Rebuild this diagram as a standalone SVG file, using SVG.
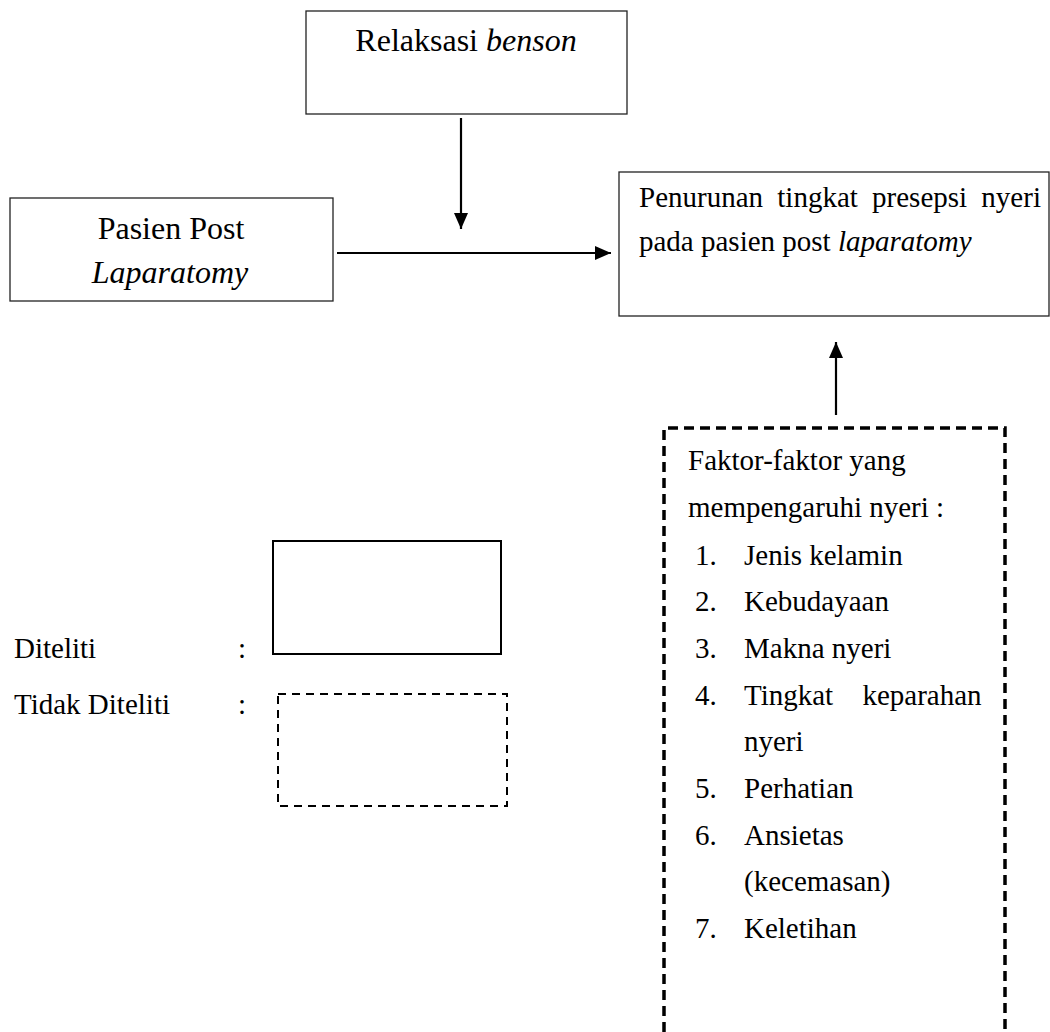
<svg xmlns="http://www.w3.org/2000/svg" width="1050" height="1032" viewBox="0 0 1050 1032">
<style>
.it{font-style:italic}
.big{font-size:32px}
.box{fill:none;stroke:#222;stroke-width:1.3}
.dash{fill:none;stroke:#000;stroke-width:3.5;stroke-dasharray:10 6}
.conn{stroke:#000;stroke-width:2.2;fill:none}
</style>
<defs>
<marker id="ah" markerWidth="16" markerHeight="14" refX="16" refY="7" orient="auto" markerUnits="userSpaceOnUse">
<path d="M0,0 L16,7 L0,14 Z" fill="#000"/>
</marker>
</defs>
<rect width="1050" height="1032" fill="#fff"/>
<g font-family="'Liberation Serif', serif" font-size="29" fill="#000">
<g id="relaksasi">
<rect class="box" x="306" y="11" width="321" height="103"/>
<text class="big" x="466" y="51" text-anchor="middle">Relaksasi <tspan class="it">benson</tspan></text>
</g>
<g id="pasien">
<rect class="box" x="10" y="198" width="323" height="103"/>
<text class="big" x="171" y="239" text-anchor="middle">Pasien Post</text>
<text class="big it" x="170" y="283" text-anchor="middle">Laparatomy</text>
</g>
<g id="penurunan">
<rect class="box" x="619" y="172" width="430" height="144"/>
<text x="639" y="207" word-spacing="7">Penurunan tingkat presepsi nyeri</text>
<text x="639" y="251">pada pasien post <tspan class="it">laparatomy</tspan></text>
</g>
<g id="faktor">
<path class="dash" d="M664,1032 V428 H1005 V1032"/>
<text x="688" y="470">Faktor-faktor yang</text>
<text x="688" y="517">mempengaruhi nyeri :</text>
<text x="695" y="565">1.</text><text x="744" y="565">Jenis kelamin</text>
<text x="695" y="611">2.</text><text x="744" y="611">Kebudayaan</text>
<text x="695" y="658">3.</text><text x="744" y="658">Makna nyeri</text>
<text x="695" y="705">4.</text><text x="744" y="705" word-spacing="22">Tingkat keparahan</text>
<text x="744" y="751">nyeri</text>
<text x="695" y="798">5.</text><text x="744" y="798">Perhatian</text>
<text x="695" y="845">6.</text><text x="744" y="845">Ansietas</text>
<text x="744" y="891">(kecemasan)</text>
<text x="695" y="938">7.</text><text x="744" y="938">Keletihan</text>
</g>
<g id="legend">
<text x="14" y="658">Diteliti</text>
<text x="238" y="658">:</text>
<rect x="273" y="541" width="228" height="113" fill="none" stroke="#000" stroke-width="2"/>
<text x="14" y="714">Tidak Diteliti</text>
<text x="238" y="714">:</text>
<rect x="278" y="694" width="229" height="112" fill="none" stroke="#000" stroke-width="2" stroke-dasharray="8 6"/>
</g>
</g>
<g id="connectors">
<line class="conn" x1="461" y1="118" x2="461" y2="229" marker-end="url(#ah)"/>
<line class="conn" x1="337" y1="253" x2="611" y2="253" marker-end="url(#ah)"/>
<line class="conn" x1="836" y1="415" x2="836" y2="342" marker-end="url(#ah)"/>
</g>
</svg>
